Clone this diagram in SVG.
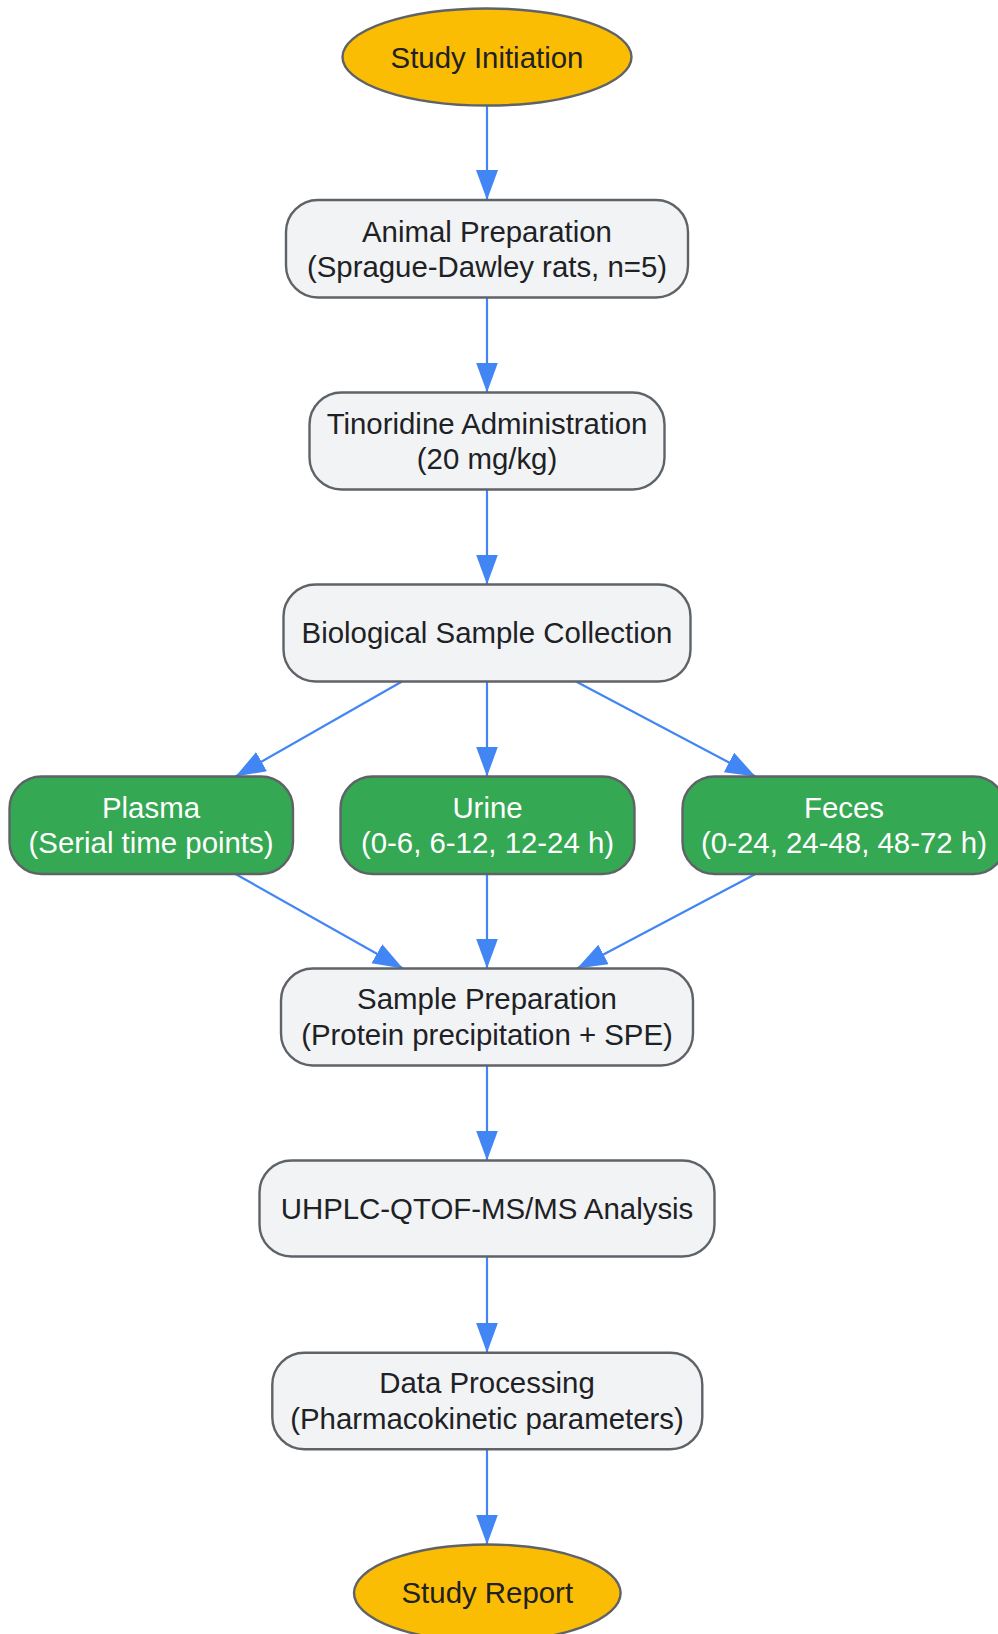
<svg xmlns="http://www.w3.org/2000/svg" width="998" height="1634" viewBox="0 0 998 1634">
<defs>
<style>
.box{fill:#f1f3f5;stroke:#5f6368;stroke-width:2.4}
.term{fill:#fbbc04;stroke:#5f6368;stroke-width:2.4}
.green{fill:#34a853;stroke:#5f6368;stroke-width:2.4}
.t{font-family:"Liberation Sans",Arial,sans-serif;font-size:29.4px;fill:#202124;text-anchor:middle}
.tw{font-family:"Liberation Sans",Arial,sans-serif;font-size:29.4px;fill:#ffffff;text-anchor:middle}
.edge{stroke:#4285f4;stroke-width:2.2;fill:none;marker-end:url(#arr)}
</style>
<marker id="arr" markerUnits="userSpaceOnUse" markerWidth="31" markerHeight="23" viewBox="0 0 31 23" refX="30" refY="11" orient="auto">
<path d="M0,0 L30,11 L0,22 z" fill="#4285f4"/>
</marker>
</defs>
<rect width="998" height="1634" fill="#ffffff"/>
<g id="connectors">
<line class="edge" x1="487" y1="105.5" x2="487" y2="200"/>
<line class="edge" x1="487" y1="297.5" x2="487" y2="392.5"/>
<line class="edge" x1="487" y1="489.5" x2="487" y2="584.5"/>
<line class="edge" x1="402" y1="681.5" x2="235.5" y2="776.5"/>
<line class="edge" x1="487" y1="681.5" x2="487" y2="776.5"/>
<line class="edge" x1="576" y1="681.5" x2="755.5" y2="776.5"/>
<line class="edge" x1="235.5" y1="874" x2="403" y2="968.5"/>
<line class="edge" x1="487" y1="874" x2="487" y2="968.5"/>
<line class="edge" x1="755.5" y1="874" x2="577" y2="968.5"/>
<line class="edge" x1="487" y1="1065.5" x2="487" y2="1160.5"/>
<line class="edge" x1="487" y1="1256.5" x2="487" y2="1352.7"/>
<line class="edge" x1="487" y1="1449.3" x2="487" y2="1544.5"/>
</g>
<g id="start">
<ellipse class="term" cx="487" cy="57" rx="144.5" ry="48.5"/>
<text class="t" x="487" y="67.5">Study Initiation</text>
</g>
<g id="animal">
<rect class="box" x="286" y="200" width="402" height="97.5" rx="32" ry="32"/>
<text class="t" x="487" y="241.5">Animal Preparation</text>
<text class="t" x="487" y="277">(Sprague-Dawley rats, n=5)</text>
</g>
<g id="tinoridine">
<rect class="box" x="309.5" y="392.5" width="355" height="97" rx="32" ry="32"/>
<text class="t" x="487" y="433.5">Tinoridine Administration</text>
<text class="t" x="487" y="469">(20 mg/kg)</text>
</g>
<g id="collection">
<rect class="box" x="283.5" y="584.5" width="407" height="97" rx="32" ry="32"/>
<text class="t" x="487" y="643">Biological Sample Collection</text>
</g>
<g id="plasma">
<rect class="green" x="9.5" y="776.5" width="283.5" height="97.5" rx="32" ry="32"/>
<text class="tw" x="151" y="817.5">Plasma</text>
<text class="tw" x="151" y="853">(Serial time points)</text>
</g>
<g id="urine">
<rect class="green" x="340.5" y="776.5" width="294" height="97.5" rx="32" ry="32"/>
<text class="tw" x="487.5" y="817.5">Urine</text>
<text class="tw" x="487.5" y="853">(0-6, 6-12, 12-24 h)</text>
</g>
<g id="feces">
<rect class="green" x="682.5" y="776.5" width="323" height="97.5" rx="32" ry="32"/>
<text class="tw" x="844" y="817.5">Feces</text>
<text class="tw" x="844" y="853">(0-24, 24-48, 48-72 h)</text>
</g>
<g id="sampleprep">
<rect class="box" x="281" y="968.5" width="412" height="97" rx="32" ry="32"/>
<text class="t" x="487" y="1009.3">Sample Preparation</text>
<text class="t" x="487" y="1045">(Protein precipitation + SPE)</text>
</g>
<g id="uhplc">
<rect class="box" x="259.5" y="1160.5" width="455" height="96" rx="32" ry="32"/>
<text class="t" x="487" y="1218.5">UHPLC-QTOF-MS/MS Analysis</text>
</g>
<g id="dataproc">
<rect class="box" x="272.3" y="1352.7" width="430" height="96.6" rx="32" ry="32"/>
<text class="t" x="487" y="1393">Data Processing</text>
<text class="t" x="487" y="1428.5">(Pharmacokinetic parameters)</text>
</g>
<g id="report">
<ellipse class="term" cx="487.3" cy="1593" rx="133.3" ry="48.5"/>
<text class="t" x="487.3" y="1603">Study Report</text>
</g>
</svg>
